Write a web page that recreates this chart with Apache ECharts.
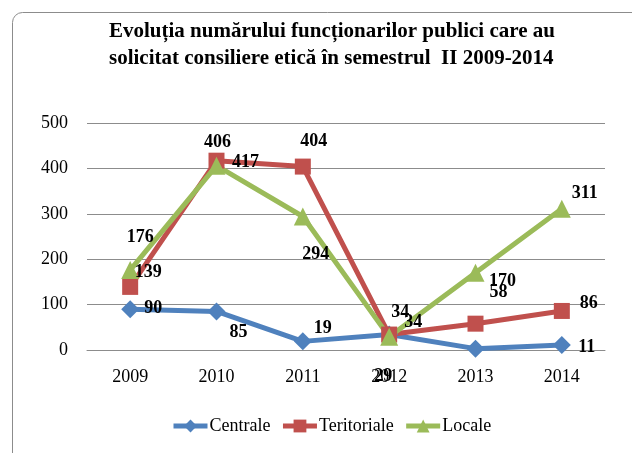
<!DOCTYPE html>
<html>
<head>
<meta charset="utf-8">
<script src="https://cdn.jsdelivr.net/npm/echarts@6/dist/echarts.min.js"></script>
<style>
  html, body { margin: 0; padding: 0; background: #fff; }
  #main { width: 632px; height: 453px; }
</style>
</head>
<body>
<div id="main"></div>
<script>
var ani = ['2009', '2010', '2011', '2012', '2013', '2014'];
var centrale = [90, 85, 19, 34, 3, 11];
var teritoriale = [139, 417, 404, 34, 58, 86];
var locale = [176, 406, 294, 29, 170, 311];
var yTicks = [0, 100, 200, 300, 400, 500];

// deplasarea etichetelor fata de puncte (ca in Excel)
var offCentrale = [[23, -1], [22, 21], [20, -13], [11, -22], null, [25, 2]];
var offTeritoriale = [[18, -15], [29, 2], [11, -25], [24, -12], [23, -31], [27, -8]];
var offLocale = [[10, -33], [1, -23], [13, 38], [-6, 40], [27, 9], [23, -15]];

var font = '"Liberation Serif", "Times New Roman", serif';

function puncte(vals, offs) {
    return vals.map(function (v, i) {
        var o = offs[i];
        return {
            value: v,
            label: o ? { offset: o } : { show: false }
        };
    });
}

var etich = {
    show: true,
    position: 'inside',
    fontFamily: font,
    fontSize: 18,
    fontWeight: 'bold',
    color: '#000'
};

var myChart = echarts.init(document.getElementById('main'), null, { renderer: 'canvas' });

var option = {
    animation: false,
    title: {
        text: 'Evoluția numărului funcționarilor publici care au\nsolicitat consiliere etică în semestrul  II 2009-2014',
        left: 104,
        top: 13,
        textStyle: {
            fontFamily: font,
            fontSize: 21,
            fontWeight: 'bold',
            color: '#000',
            lineHeight: 27
        }
    },
    graphic: [{
        type: 'rect',
        shape: { x: 12.5, y: 12.5, width: 640, height: 460, r: 10 },
        style: { fill: 'none', stroke: '#8c8c8c', lineWidth: 1 },
        silent: true
    }],
    legend: {
        bottom: 13,
        left: 166,
        itemWidth: 34,
        itemHeight: 16,
        itemGap: 10,
        lineStyle: { width: 5 },
        textStyle: { fontFamily: font, fontSize: 18, color: '#000', padding: [0, 0, 0, -3] },
        data: ['Centrale', 'Teritoriale', 'Locale']
    },
    grid: { left: 87, right: 27, top: 123, bottom: 103 },
    xAxis: {
        type: 'category',
        data: ani,
        boundaryGap: true,
        axisLine: { lineStyle: { color: '#8c8c8c' } },
        axisTick: { show: false },
        axisLabel: { fontFamily: font, fontSize: 18, color: '#000', margin: 18 }
    },
    yAxis: {
        type: 'value',
        min: yTicks[0],
        max: yTicks[yTicks.length - 1],
        interval: 100,
        axisLine: { show: false },
        axisTick: { show: false },
        splitLine: { lineStyle: { color: '#8c8c8c', width: 1 } },
        axisLabel: { fontFamily: font, fontSize: 18, color: '#000', margin: 19 }
    },
    series: [
        {
            name: 'Centrale',
            type: 'line',
            data: puncte(centrale, offCentrale),
            symbol: 'diamond',
            symbolSize: 18,
            lineStyle: { width: 5, color: '#4F81BD' },
            itemStyle: { color: '#4F81BD' },
            label: etich
        },
        {
            name: 'Teritoriale',
            type: 'line',
            data: puncte(teritoriale, offTeritoriale),
            symbol: 'rect',
            symbolSize: 16,
            lineStyle: { width: 5, color: '#C0504D' },
            itemStyle: { color: '#C0504D' },
            label: etich
        },
        {
            name: 'Locale',
            type: 'line',
            data: puncte(locale, offLocale),
            symbol: 'triangle',
            symbolSize: 18,
            lineStyle: { width: 5, color: '#9BBB59' },
            itemStyle: { color: '#9BBB59' },
            label: etich
        }
    ]
};

myChart.setOption(option);
window.addEventListener('resize', myChart.resize);
</script>
</body>
</html>
